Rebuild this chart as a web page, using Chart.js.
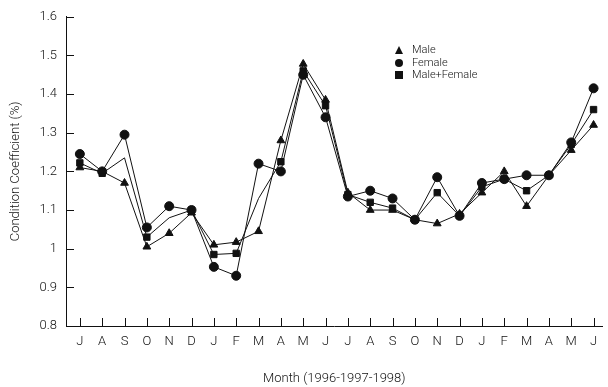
<!DOCTYPE html>
<html>
<head>
<meta charset="utf-8">
<script src="https://cdn.jsdelivr.net/npm/chart.js@4.4.1/dist/chart.umd.min.js"></script>
<style>
  html, body { margin: 0; padding: 0; background: #fff; }
  #wrap { position: relative; width: 608px; height: 387px; }
  #legend { position: absolute; left: 393px; top: 44px; font-family: Roboto, "Liberation Sans", sans-serif; font-weight: 300; font-size: 11px; color: #111; }
  #legend .row { height: 12.5px; line-height: 12.5px; display: flex; align-items: center; }
  #legend .mk { width: 12px; height: 12px; position: relative; margin-right: 7px; }
  .tri { position: absolute; left: 2px; top: 2px; width: 0; height: 0; border-left: 4px solid transparent; border-right: 4px solid transparent; border-bottom: 8px solid #111; }
  .cir { position: absolute; left: 2px; top: 2px; width: 8px; height: 8px; border-radius: 50%; background: #111; }
  .sq { position: absolute; left: 2px; top: 2px; width: 8px; height: 8px; background: #111; }
</style>
</head>
<body>
<div id="wrap">
  <canvas id="c" width="608" height="387"></canvas>
  <div id="legend">
    <div class="row"><span class="mk"><span class="tri"></span></span>Male</div>
    <div class="row"><span class="mk"><span class="cir"></span></span>Female</div>
    <div class="row"><span class="mk"><span class="sq"></span></span>Male+Female</div>
  </div>
</div>
<script>
// Months July 1996 - June 1998
let months = ["J","A","S","O","N","D","J","F","M","A","M","J","J","A","S","O","N","D","J","F","M","A","M","J"];

let male   = [1.21, 1.20, 1.17, 1.005, 1.04, 1.093, 1.01, 1.017, 1.045, 1.28, 1.478, 1.385,
              1.145, 1.10, 1.10, 1.075, 1.065, 1.09, 1.145, 1.20, 1.11, 1.19, 1.255, 1.32];
let female = [1.245, 1.20, 1.295, 1.055, 1.11, 1.10, 0.953, 0.93, 1.22, 1.20, 1.45, 1.34,
              1.135, 1.15, 1.13, 1.075, 1.185, 1.085, 1.17, 1.18, 1.19, 1.19, 1.275, 1.415];
let both   = [1.222, 1.195, 1.235, 1.03, 1.08, 1.10, 0.985, 0.988, 1.13, 1.225, 1.46, 1.37,
              1.14, 1.12, 1.105, 1.075, 1.145, 1.085, 1.16, 1.18, 1.15, 1.19, 1.27, 1.36];

// square markers missing in the original at these points
let bothHidden = [2, 4, 8];

let yTicks = [0.8, 0.9, 1.0, 1.1, 1.2, 1.3, 1.4, 1.5, 1.6];

const FONT = "Roboto, 'Liberation Sans', sans-serif";
const INK = "#111";

function pts(arr) { return arr.map((v, i) => ({ x: i, y: v })); }

// draw tick marks pointing into the plot
const innerTicks = {
    id: "innerTicks",
    afterDraw(chart) {
        let ctx = chart.ctx, xs = chart.scales.x, ys = chart.scales.y;
        ctx.save();
        ctx.strokeStyle = INK;
        ctx.lineWidth = 1;
        ctx.beginPath();
        months.forEach((m, i) => {
            let px = Math.round(xs.getPixelForValue(i)) + 0.5;
            ctx.moveTo(px, ys.bottom);
            ctx.lineTo(px, ys.bottom - 8);
        });
        yTicks.forEach(v => {
            let py = Math.round(ys.getPixelForValue(v)) + 0.5;
            ctx.moveTo(xs.left, py);
            ctx.lineTo(xs.left + 8, py);
        });
        ctx.stroke();
        ctx.restore();
    }
};

let common = {
    borderColor: INK,
    backgroundColor: INK,
    pointBackgroundColor: INK,
    pointBorderColor: INK,
    borderWidth: 1,
    showLine: true,
    tension: 0
};

new Chart(document.getElementById("c").getContext("2d"), {
    type: "scatter",
    data: {
        datasets: [
            Object.assign({ label: "Male", data: pts(male), pointStyle: "triangle", pointRadius: 4.5 }, common),
            Object.assign({ label: "Female", data: pts(female), pointStyle: "circle", pointRadius: 4.5 }, common),
            Object.assign({ label: "Male+Female", data: pts(both), pointStyle: "rect",
                pointRadius: both.map((v, i) => bothHidden.includes(i) ? 0 : 4.5) }, common)
        ]
    },
    options: {
        responsive: false,
        animation: false,
        layout: { padding: { top: 15, right: 2, left: 0, bottom: 0 } },
        plugins: { legend: { display: false }, tooltip: { enabled: false } },
        scales: {
            x: {
                type: "linear",
                min: -0.62,
                max: 23.4,
                afterFit: s => { s.height = 61; },
                grid: { display: false, drawTicks: false },
                border: { display: true, color: INK, width: 1 },
                ticks: {
                    stepSize: 1,
                    includeBounds: false,
                    autoSkip: false,
                    maxRotation: 0,
                    padding: 8,
                    color: "#111",
                    font: { family: FONT, size: 13, weight: 300 },
                    callback: v => Number.isInteger(v) ? months[v] : ""
                },
                title: {
                    display: true,
                    text: "Month (1996-1997-1998)",
                    color: "#111",
                    font: { family: FONT, size: 13, weight: 300 },
                    padding: { top: 18, bottom: 0 }
                }
            },
            y: {
                min: 0.8,
                max: 1.6,
                afterFit: s => { s.width = 66; },
                grid: { display: false, drawTicks: false },
                border: { display: true, color: INK, width: 1 },
                ticks: {
                    stepSize: 0.1,
                    padding: 9,
                    color: "#111",
                    font: { family: FONT, size: 13, weight: 300 },
                    callback: v => String(+v.toFixed(1))
                },
                title: {
                    display: true,
                    text: "Condition Coefficient (%)",
                    color: "#111",
                    font: { family: FONT, size: 13, weight: 300 },
                    padding: { top: 8, bottom: 0 }
                }
            }
        }
    },
    plugins: [innerTicks]
});
</script>
</body>
</html>
